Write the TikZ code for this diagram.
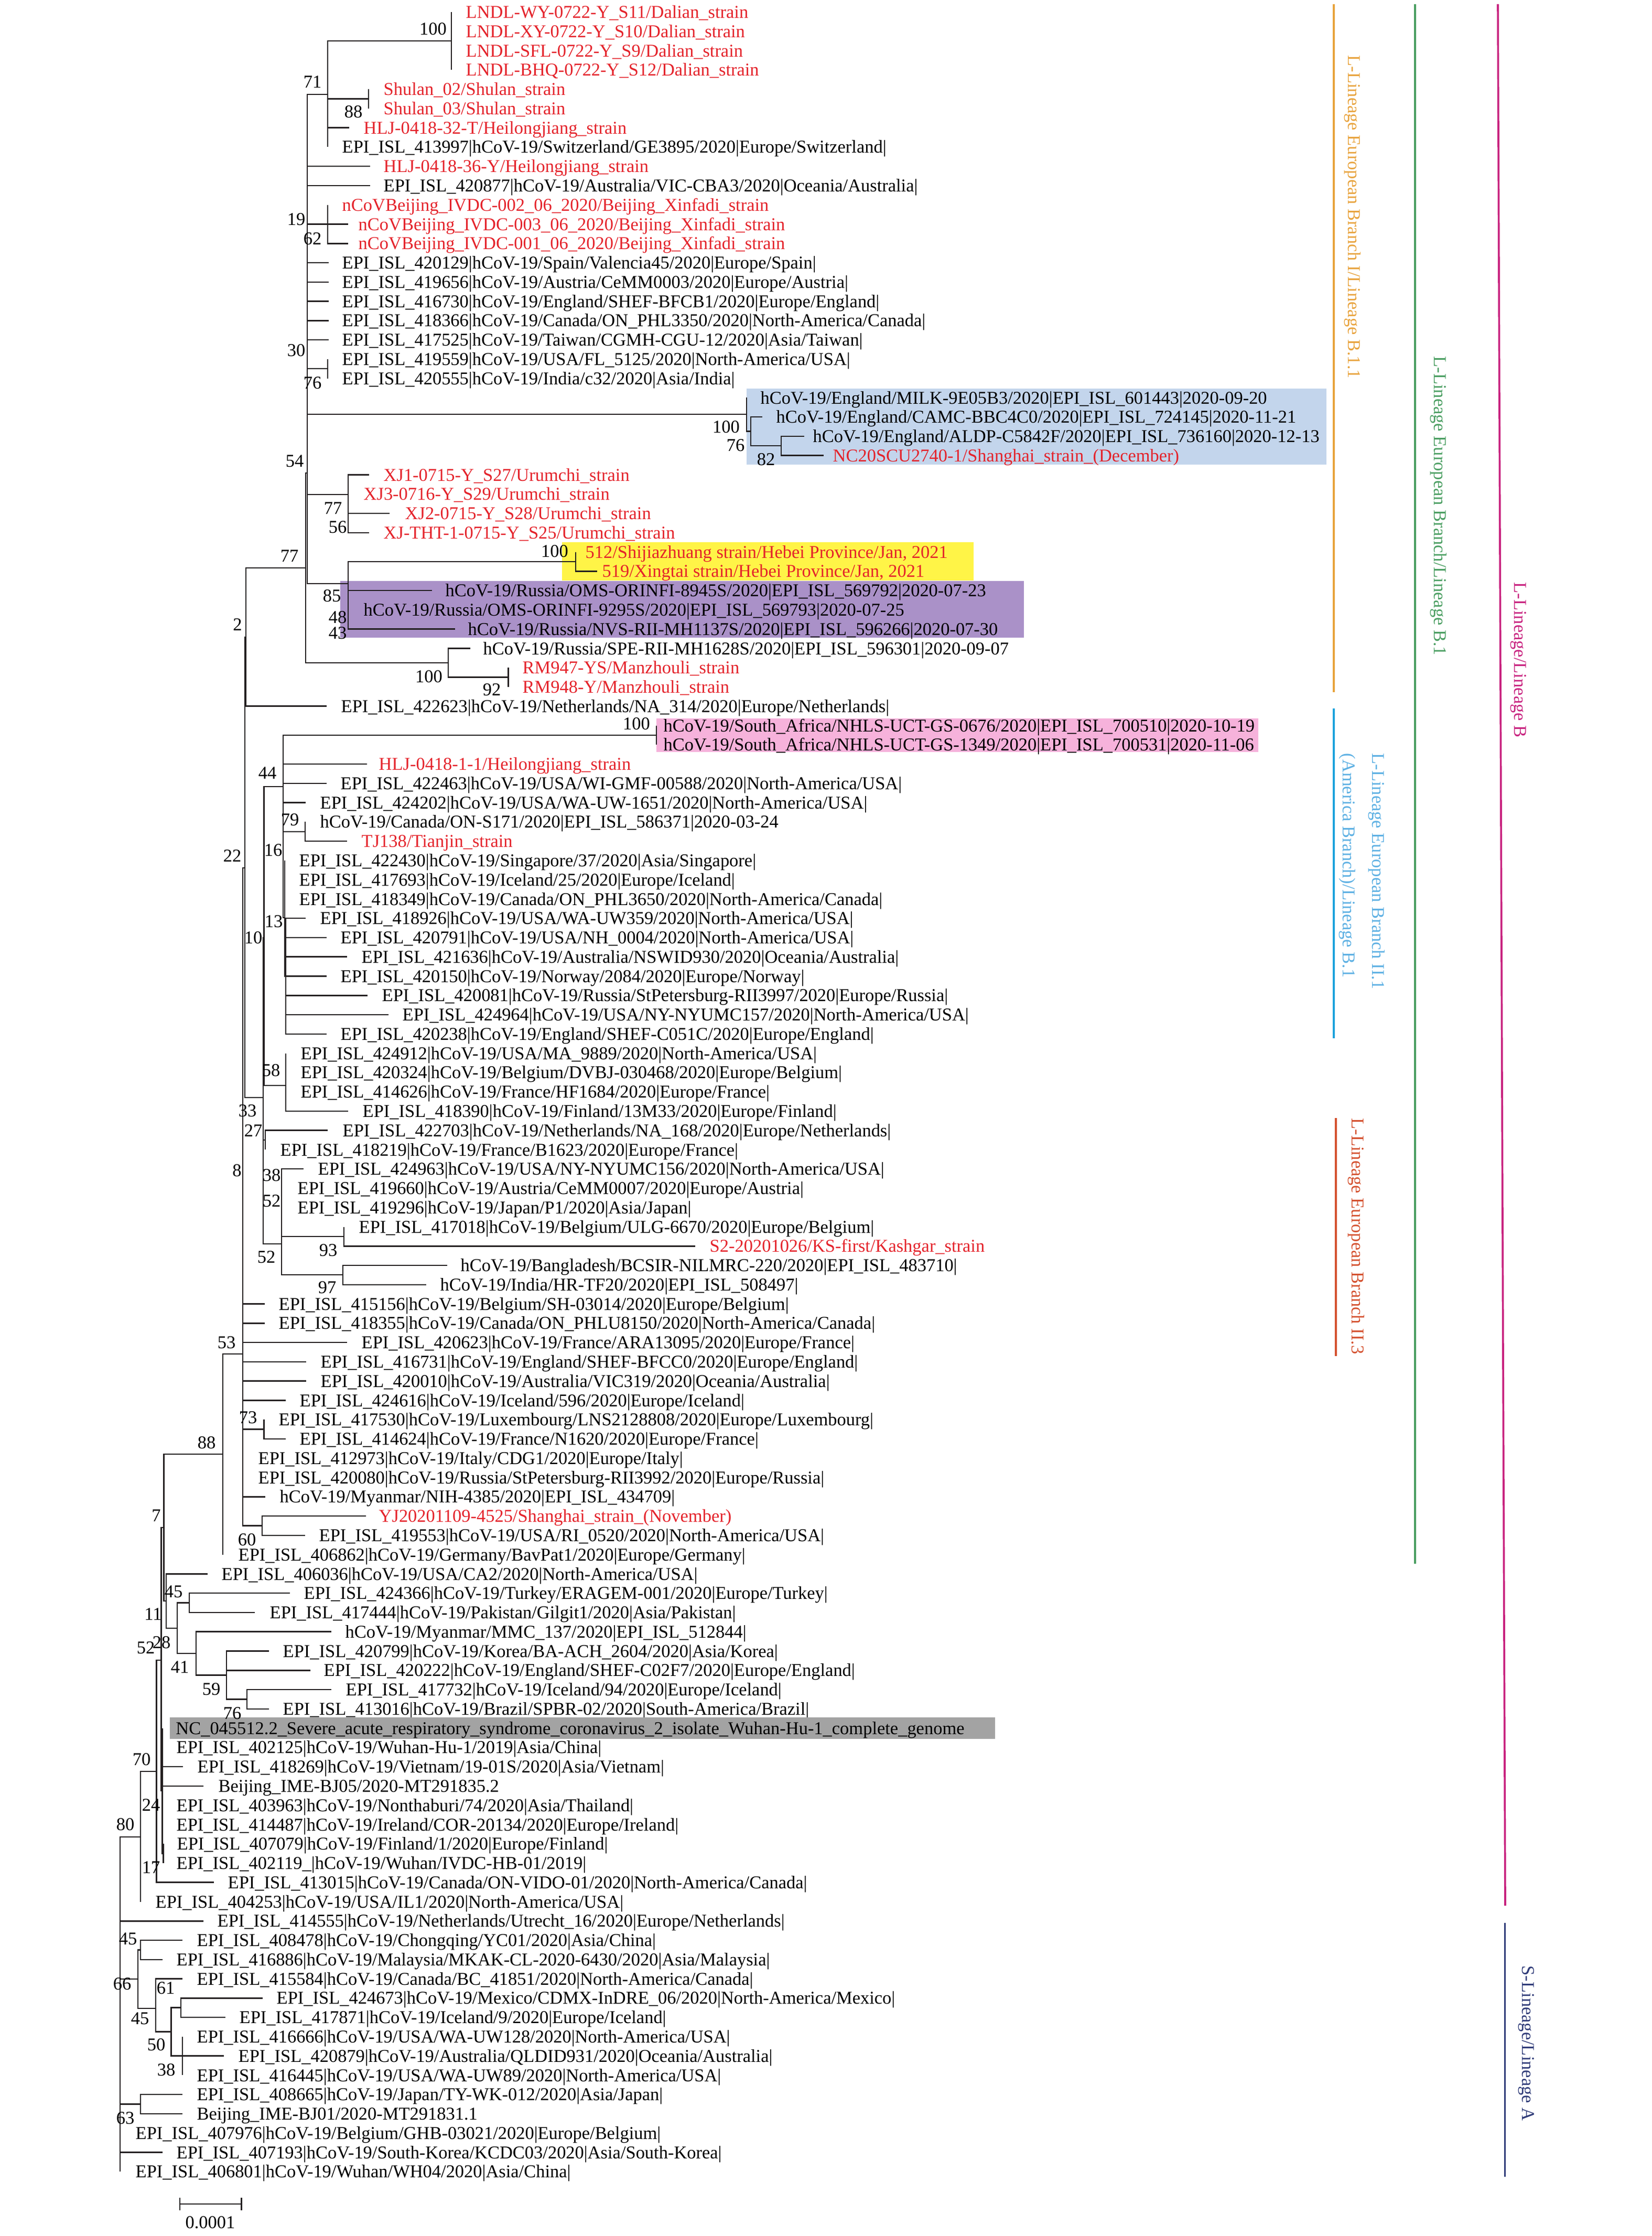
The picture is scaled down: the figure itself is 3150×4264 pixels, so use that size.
\documentclass[tikz,border=0pt]{standalone}
\usepackage{fontspec}
\setmainfont{Liberation Serif}
\definecolor{tred}{HTML}{E4232B}
\definecolor{brc}{HTML}{231F20}
\definecolor{bxblue}{HTML}{C3D5EC}
\definecolor{bxyel}{HTML}{FFF447}
\definecolor{bxpur}{HTML}{AA91C8}
\definecolor{bxpink}{HTML}{F6B2DB}
\definecolor{bxgray}{HTML}{A3A3A3}
\definecolor{cOr}{HTML}{E8A33D}
\definecolor{cGr}{HTML}{4A9E61}
\definecolor{cMg}{HTML}{C8237F}
\definecolor{cBl}{HTML}{1DA2DC}
\definecolor{cBlT}{HTML}{5DB0E3}
\definecolor{cRd}{HTML}{D4502E}
\definecolor{cNv}{HTML}{2F3B78}
\newcommand\fsz{\fontsize{9.8pt}{11pt}\selectfont}
\newcommand\leafnode[6]{\coordinate (#1) at (#3,{23+36.77*#2});\node[leaf,#5] (#1t) at (#4,{23+36.77*#2}) {#6};}
\newcommand\edges[2]{\foreach \ch in {#2}{\draw[br] (#1) |- (\ch);}}
\newcommand\bval[4]{\node[bsl] (#1) at (#2,#3) {#4};}
\begin{document}
\begin{tikzpicture}[x=0.01cm,y=-0.01cm,
  leaf/.style={anchor=west,inner sep=0pt,text height=6.6pt,text depth=0pt,font=\fsz},
  bsl/.style={anchor=center,inner sep=0pt,text height=6.6pt,text depth=0pt,font=\fsz},
  br/.style={line width=0.72pt,draw=brc},
  bar/.style={line width=1.05pt},
  vlab/.style={anchor=west,rotate=-90,inner sep=0pt,text height=6.6pt,text depth=0pt,font=\fsz}]
\useasboundingbox (0,0) rectangle (3150,4264);
% highlight boxes
\fill[bxblue] (1424,741) rectangle (2530,886);
\fill[bxyel] (1072,1034) rectangle (1857,1107);
\fill[bxpur] (649,1108) rectangle (1953,1216);
\fill[bxpink] (1252,1370) rectangle (2400,1434);
% leaves
\leafnode{L0}{0}{861}{888}{tred}{LNDL-WY-0722-Y\_S11/Dalian\_strain}
\leafnode{L1}{1}{861}{888}{tred}{LNDL-XY-0722-Y\_S10/Dalian\_strain}
\leafnode{L2}{2}{861}{888}{tred}{LNDL-SFL-0722-Y\_S9/Dalian\_strain}
\leafnode{L3}{3}{861}{888}{tred}{LNDL-BHQ-0722-Y\_S12/Dalian\_strain}
\leafnode{L4}{4}{703}{731}{tred}{Shulan\_02/Shulan\_strain}
\leafnode{L5}{5}{703}{731}{tred}{Shulan\_03/Shulan\_strain}
\leafnode{L6}{6}{666}{693}{tred}{HLJ-0418-32-T/Heilongjiang\_strain}
\leafnode{L7}{7}{625}{652}{}{EPI\_ISL\_413997|hCoV-19/Switzerland/GE3895/2020|Europe/Switzerland|}
\leafnode{L8}{8}{706}{731}{tred}{HLJ-0418-36-Y/Heilongjiang\_strain}
\leafnode{L9}{9}{706}{731}{}{EPI\_ISL\_420877|hCoV-19/Australia/VIC-CBA3/2020|Oceania/Australia|}
\leafnode{L10}{10}{625}{652}{tred}{nCoVBeijing\_IVDC-002\_06\_2020/Beijing\_Xinfadi\_strain}
\leafnode{L11}{11}{664}{683}{tred}{nCoVBeijing\_IVDC-003\_06\_2020/Beijing\_Xinfadi\_strain}
\leafnode{L12}{12}{664}{683}{tred}{nCoVBeijing\_IVDC-001\_06\_2020/Beijing\_Xinfadi\_strain}
\leafnode{L13}{13}{627}{652}{}{EPI\_ISL\_420129|hCoV-19/Spain/Valencia45/2020|Europe/Spain|}
\leafnode{L14}{14}{627}{652}{}{EPI\_ISL\_419656|hCoV-19/Austria/CeMM0003/2020|Europe/Austria|}
\leafnode{L15}{15}{627}{652}{}{EPI\_ISL\_416730|hCoV-19/England/SHEF-BFCB1/2020|Europe/England|}
\leafnode{L16}{16}{627}{652}{}{EPI\_ISL\_418366|hCoV-19/Canada/ON\_PHL3350/2020|North-America/Canada|}
\leafnode{L17}{17}{627}{652}{}{EPI\_ISL\_417525|hCoV-19/Taiwan/CGMH-CGU-12/2020|Asia/Taiwan|}
\leafnode{L18}{18}{625}{652}{}{EPI\_ISL\_419559|hCoV-19/USA/FL\_5125/2020|North-America/USA|}
\leafnode{L19}{19}{625}{652}{}{EPI\_ISL\_420555|hCoV-19/India/c32/2020|Asia/India|}
\leafnode{L20}{20}{1424}{1450}{}{hCoV-19/England/MILK-9E05B3/2020|EPI\_ISL\_601443|2020-09-20}
\leafnode{L21}{21}{1454}{1480}{}{hCoV-19/England/CAMC-BBC4C0/2020|EPI\_ISL\_724145|2020-11-21}
\leafnode{L22}{22}{1534}{1550}{}{hCoV-19/England/ALDP-C5842F/2020|EPI\_ISL\_736160|2020-12-13}
\leafnode{L23}{23}{1571}{1588}{tred}{NC20SCU2740-1/Shanghai\_strain\_(December)}
\leafnode{L24}{24}{704}{731}{tred}{XJ1-0715-Y\_S27/Urumchi\_strain}
\leafnode{L25}{25}{664}{693}{tred}{XJ3-0716-Y\_S29/Urumchi\_strain}
\leafnode{L26}{26}{743}{772}{tred}{XJ2-0715-Y\_S28/Urumchi\_strain}
\leafnode{L27}{27}{704}{731}{tred}{XJ-THT-1-0715-Y\_S25/Urumchi\_strain}
\leafnode{L28}{28}{1098}{1116}{tred}{512/Shijiazhuang strain/Hebei Province/Jan, 2021}
\leafnode{L29}{29}{1139}{1148}{tred}{519/Xingtai strain/Hebei Province/Jan, 2021}
\leafnode{L30}{30}{823.5}{849}{}{hCoV-19/Russia/OMS-ORINFI-8945S/2020|EPI\_ISL\_569792|2020-07-23}
\leafnode{L31}{31}{664}{693}{}{hCoV-19/Russia/OMS-ORINFI-9295S/2020|EPI\_ISL\_569793|2020-07-25}
\leafnode{L32}{32}{867.5}{892}{}{hCoV-19/Russia/NVS-RII-MH1137S/2020|EPI\_ISL\_596266|2020-07-30}
\leafnode{L33}{33}{896.5}{921}{}{hCoV-19/Russia/SPE-RII-MH1628S/2020|EPI\_ISL\_596301|2020-09-07}
\leafnode{L34}{34}{969.5}{996}{tred}{RM947-YS/Manzhouli\_strain}
\leafnode{L35}{35}{969.5}{996}{tred}{RM948-Y/Manzhouli\_strain}
\leafnode{L36}{36}{623}{650}{}{EPI\_ISL\_422623|hCoV-19/Netherlands/NA\_314/2020|Europe/Netherlands|}
\leafnode{L37}{37}{1252}{1265}{}{hCoV-19/South\_Africa/NHLS-UCT-GS-0676/2020|EPI\_ISL\_700510|2020-10-19}
\leafnode{L38}{38}{1252}{1265}{}{hCoV-19/South\_Africa/NHLS-UCT-GS-1349/2020|EPI\_ISL\_700531|2020-11-06}
\leafnode{L39}{39}{700}{722}{tred}{HLJ-0418-1-1/Heilongjiang\_strain}
\leafnode{L40}{40}{623}{649}{}{EPI\_ISL\_422463|hCoV-19/USA/WI-GMF-00588/2020|North-America/USA|}
\leafnode{L41}{41}{583}{610}{}{EPI\_ISL\_424202|hCoV-19/USA/WA-UW-1651/2020|North-America/USA|}
\leafnode{L42}{42}{582}{610}{}{hCoV-19/Canada/ON-S171/2020|EPI\_ISL\_586371|2020-03-24}
\leafnode{L43}{43}{662}{689}{tred}{TJ138/Tianjin\_strain}
\leafnode{L44}{44}{543}{570}{}{EPI\_ISL\_422430|hCoV-19/Singapore/37/2020|Asia/Singapore|}
\leafnode{L45}{45}{543}{570}{}{EPI\_ISL\_417693|hCoV-19/Iceland/25/2020|Europe/Iceland|}
\leafnode{L46}{46}{543}{570}{}{EPI\_ISL\_418349|hCoV-19/Canada/ON\_PHL3650/2020|North-America/Canada|}
\leafnode{L47}{47}{583}{610}{}{EPI\_ISL\_418926|hCoV-19/USA/WA-UW359/2020|North-America/USA|}
\leafnode{L48}{48}{623}{649}{}{EPI\_ISL\_420791|hCoV-19/USA/NH\_0004/2020|North-America/USA|}
\leafnode{L49}{49}{662}{689}{}{EPI\_ISL\_421636|hCoV-19/Australia/NSWID930/2020|Oceania/Australia|}
\leafnode{L50}{50}{623}{649}{}{EPI\_ISL\_420150|hCoV-19/Norway/2084/2020|Europe/Norway|}
\leafnode{L51}{51}{701}{728}{}{EPI\_ISL\_420081|hCoV-19/Russia/StPetersburg-RII3997/2020|Europe/Russia|}
\leafnode{L52}{52}{741}{767}{}{EPI\_ISL\_424964|hCoV-19/USA/NY-NYUMC157/2020|North-America/USA|}
\leafnode{L53}{53}{623}{649}{}{EPI\_ISL\_420238|hCoV-19/England/SHEF-C051C/2020|Europe/England|}
\leafnode{L54}{54}{545}{573}{}{EPI\_ISL\_424912|hCoV-19/USA/MA\_9889/2020|North-America/USA|}
\leafnode{L55}{55}{545}{573}{}{EPI\_ISL\_420324|hCoV-19/Belgium/DVBJ-030468/2020|Europe/Belgium|}
\leafnode{L56}{56}{545}{573}{}{EPI\_ISL\_414626|hCoV-19/France/HF1684/2020|Europe/France|}
\leafnode{L57}{57}{664}{691}{}{EPI\_ISL\_418390|hCoV-19/Finland/13M33/2020|Europe/Finland|}
\leafnode{L58}{58}{625}{653}{}{EPI\_ISL\_422703|hCoV-19/Netherlands/NA\_168/2020|Europe/Netherlands|}
\leafnode{L59}{59}{506}{534}{}{EPI\_ISL\_418219|hCoV-19/France/B1623/2020|Europe/France|}
\leafnode{L60}{60}{579}{606}{}{EPI\_ISL\_424963|hCoV-19/USA/NY-NYUMC156/2020|North-America/USA|}
\leafnode{L61}{61}{537}{567}{}{EPI\_ISL\_419660|hCoV-19/Austria/CeMM0007/2020|Europe/Austria|}
\leafnode{L62}{62}{537}{567}{}{EPI\_ISL\_419296|hCoV-19/Japan/P1/2020|Asia/Japan|}
\leafnode{L63}{63}{656}{684}{}{EPI\_ISL\_417018|hCoV-19/Belgium/ULG-6670/2020|Europe/Belgium|}
\leafnode{L64}{64}{1326}{1353}{tred}{S2-20201026/KS-first/Kashgar\_strain}
\leafnode{L65}{65}{853}{878}{}{hCoV-19/Bangladesh/BCSIR-NILMRC-220/2020|EPI\_ISL\_483710|}
\leafnode{L66}{66}{813}{839}{}{hCoV-19/India/HR-TF20/2020|EPI\_ISL\_508497|}
\leafnode{L67}{67}{505}{531}{}{EPI\_ISL\_415156|hCoV-19/Belgium/SH-03014/2020|Europe/Belgium|}
\leafnode{L68}{68}{505}{531}{}{EPI\_ISL\_418355|hCoV-19/Canada/ON\_PHLU8150/2020|North-America/Canada|}
\leafnode{L69}{69}{662}{689}{}{EPI\_ISL\_420623|hCoV-19/France/ARA13095/2020|Europe/France|}
\leafnode{L70}{70}{584}{611}{}{EPI\_ISL\_416731|hCoV-19/England/SHEF-BFCC0/2020|Europe/England|}
\leafnode{L71}{71}{584}{611}{}{EPI\_ISL\_420010|hCoV-19/Australia/VIC319/2020|Oceania/Australia|}
\leafnode{L72}{72}{545}{571}{}{EPI\_ISL\_424616|hCoV-19/Iceland/596/2020|Europe/Iceland|}
\leafnode{L73}{73}{503.5}{531}{}{EPI\_ISL\_417530|hCoV-19/Luxembourg/LNS2128808/2020|Europe/Luxembourg|}
\leafnode{L74}{74}{545}{571}{}{EPI\_ISL\_414624|hCoV-19/France/N1620/2020|Europe/France|}
\leafnode{L75}{75}{463}{492}{}{EPI\_ISL\_412973|hCoV-19/Italy/CDG1/2020|Europe/Italy|}
\leafnode{L76}{76}{463}{492}{}{EPI\_ISL\_420080|hCoV-19/Russia/StPetersburg-RII3992/2020|Europe/Russia|}
\leafnode{L77}{77}{506}{533}{}{hCoV-19/Myanmar/NIH-4385/2020|EPI\_ISL\_434709|}
\leafnode{L78}{78}{698}{722}{tred}{YJ20201109-4525/Shanghai\_strain\_(November)}
\leafnode{L79}{79}{582}{608}{}{EPI\_ISL\_419553|hCoV-19/USA/RI\_0520/2020|North-America/USA|}
\leafnode{L80}{80}{425}{454}{}{EPI\_ISL\_406862|hCoV-19/Germany/BavPat1/2020|Europe/Germany|}
\leafnode{L81}{81}{396}{422}{}{EPI\_ISL\_406036|hCoV-19/USA/CA2/2020|North-America/USA|}
\leafnode{L82}{82}{553}{579}{}{EPI\_ISL\_424366|hCoV-19/Turkey/ERAGEM-001/2020|Europe/Turkey|}
\leafnode{L83}{83}{486}{514}{}{EPI\_ISL\_417444|hCoV-19/Pakistan/Gilgit1/2020|Asia/Pakistan|}
\leafnode{L84}{84}{632}{658}{}{hCoV-19/Myanmar/MMC\_137/2020|EPI\_ISL\_512844|}
\leafnode{L85}{85}{512.5}{539}{}{EPI\_ISL\_420799|hCoV-19/Korea/BA-ACH\_2604/2020|Asia/Korea|}
\leafnode{L86}{86}{591.5}{617}{}{EPI\_ISL\_420222|hCoV-19/England/SHEF-C02F7/2020|Europe/England|}
\leafnode{L87}{87}{632}{659}{}{EPI\_ISL\_417732|hCoV-19/Iceland/94/2020|Europe/Iceland|}
\leafnode{L88}{88}{512.5}{539}{}{EPI\_ISL\_413016|hCoV-19/Brazil/SPBR-02/2020|South-America/Brazil|}
\leafnode{L89}{89}{309.3}{323.7}{fill=bxgray,inner xsep=0.11cm,minimum height=0.41cm,text width=15.51cm,align=left}{NC\_045512.2\_Severe\_acute\_respiratory\_syndrome\_coronavirus\_2\_isolate\_Wuhan-Hu-1\_complete\_genome}
\leafnode{L90}{90}{309.3}{336}{}{EPI\_ISL\_402125|hCoV-19/Wuhan-Hu-1/2019|Asia/China|}
\leafnode{L91}{91}{349}{376}{}{EPI\_ISL\_418269|hCoV-19/Vietnam/19-01S/2020|Asia/Vietnam|}
\leafnode{L92}{92}{388}{416}{}{Beijing\_IME-BJ05/2020-MT291835.2}
\leafnode{L93}{93}{309.3}{336}{}{EPI\_ISL\_403963|hCoV-19/Nonthaburi/74/2020|Asia/Thailand|}
\leafnode{L94}{94}{309.3}{336}{}{EPI\_ISL\_414487|hCoV-19/Ireland/COR-20134/2020|Europe/Ireland|}
\leafnode{L95}{95}{311.5}{337}{}{EPI\_ISL\_407079|hCoV-19/Finland/1/2020|Europe/Finland|}
\leafnode{L96}{96}{311.5}{336}{}{EPI\_ISL\_402119\_|hCoV-19/Wuhan/IVDC-HB-01/2019|}
\leafnode{L97}{97}{408}{434}{}{EPI\_ISL\_413015|hCoV-19/Canada/ON-VIDO-01/2020|North-America/Canada|}
\leafnode{L98}{98}{268}{296}{}{EPI\_ISL\_404253|hCoV-19/USA/IL1/2020|North-America/USA|}
\leafnode{L99}{99}{388}{414}{}{EPI\_ISL\_414555|hCoV-19/Netherlands/Utrecht\_16/2020|Europe/Netherlands|}
\leafnode{L100}{100}{348}{375}{}{EPI\_ISL\_408478|hCoV-19/Chongqing/YC01/2020|Asia/China|}
\leafnode{L101}{101}{310}{336}{}{EPI\_ISL\_416886|hCoV-19/Malaysia/MKAK-CL-2020-6430/2020|Asia/Malaysia|}
\leafnode{L102}{102}{348}{375}{}{EPI\_ISL\_415584|hCoV-19/Canada/BC\_41851/2020|North-America/Canada|}
\leafnode{L103}{103}{501}{527}{}{EPI\_ISL\_424673|hCoV-19/Mexico/CDMX-InDRE\_06/2020|North-America/Mexico|}
\leafnode{L104}{104}{430}{456}{}{EPI\_ISL\_417871|hCoV-19/Iceland/9/2020|Europe/Iceland|}
\leafnode{L105}{105}{348}{375}{}{EPI\_ISL\_416666|hCoV-19/USA/WA-UW128/2020|North-America/USA|}
\leafnode{L106}{106}{427}{454}{}{EPI\_ISL\_420879|hCoV-19/Australia/QLDID931/2020|Oceania/Australia|}
\leafnode{L107}{107}{348}{375}{}{EPI\_ISL\_416445|hCoV-19/USA/WA-UW89/2020|North-America/USA|}
\leafnode{L108}{108}{348}{375}{}{EPI\_ISL\_408665|hCoV-19/Japan/TY-WK-012/2020|Asia/Japan|}
\leafnode{L109}{109}{348}{375}{}{Beijing\_IME-BJ01/2020-MT291831.1}
\leafnode{L110}{110}{229}{258}{}{EPI\_ISL\_407976|hCoV-19/Belgium/GHB-03021/2020|Europe/Belgium|}
\leafnode{L111}{111}{310}{336}{}{EPI\_ISL\_407193|hCoV-19/South-Korea/KCDC03/2020|Asia/South-Korea|}
\leafnode{L112}{112}{229}{258}{}{EPI\_ISL\_406801|hCoV-19/Wuhan/WH04/2020|Asia/China|}
% internal nodes
\coordinate (nD) at (861,78);
\coordinate (nS) at (703,188.5);
\coordinate (n71) at (625,180);
\coordinate (nX) at (625,427.5);
\coordinate (n76) at (625,703);
\coordinate (nB) at (1424,790);
\coordinate (n76b) at (1432,822.5);
\coordinate (n82) at (1490,850);
\coordinate (nU) at (664,943);
\coordinate (nHeb) at (1098,1071);
\coordinate (nHR) at (664,1113);
\coordinate (n54) at (586,902);
\coordinate (nM2) at (969.5,1291.5);
\coordinate (nM) at (855,1264);
\coordinate (n77) at (583,1083);
\coordinate (n2) at (469,1215);
\coordinate (n22) at (467,1655);
\coordinate (nSA) at (1252,1402);
\coordinate (n79) at (582,1586);
\coordinate (n13) at (545,1861.5);
\coordinate (n16) at (543,1750);
\coordinate (n44) at (540,1500);
\coordinate (n58) at (545,2070);
\coordinate (n10) at (503.5,1788);
\coordinate (n27) at (506,2174);
\coordinate (n93) at (656,2358);
\coordinate (n97) at (654,2431);
\coordinate (n52) at (537,2372);
\coordinate (n33) at (502,2093);
\coordinate (n73) at (503.5,2725.6);
\coordinate (n60) at (500,2909.4);
\coordinate (n53) at (463,2582);
\coordinate (n88) at (425,2773);
\coordinate (nTP) at (361,3056.5);
\coordinate (n76c) at (471,3240.4);
\coordinate (n59) at (432,3194.5);
\coordinate (n41) at (374,3153);
\coordinate (n28) at (338,3104.8);
\coordinate (n45) at (317,3053);
\coordinate (n7) at (312.5,2913);
\coordinate (n17b) at (311.5,3534.6);
\coordinate (n24) at (309.3,3415);
\coordinate (n11) at (307.3,3166);
\coordinate (n70) at (298.3,3378);
\coordinate (n80) at (268,3503);
\coordinate (n45u) at (268,3718.4);
\coordinate (n61) at (345,3828.6);
\coordinate (n38b) at (348,3920.6);
\coordinate (n50) at (326.5,3874.6);
\coordinate (n45b) at (297,3830);
\coordinate (n66) at (263,3774);
\coordinate (n63) at (268,4012.6);
\coordinate (root) at (229,3800);
% branches
\edges{nD}{L0,L1,L2,L3}
\edges{nS}{L4,L5}
\edges{n71}{nD,nS,L6,L7}
\edges{nX}{L10,L11,L12}
\edges{n76}{L18,L19}
\edges{n82}{L22,L23}
\edges{n76b}{L21,n82}
\edges{nB}{L20,n76b}
\edges{nU}{L24,L25,L26,L27}
\edges{nHeb}{L28,L29}
\edges{nHR}{nHeb,L30,L31,L32}
\edges{n54}{n71,L8,L9,nX,L13,L14,L15,L16,L17,n76,nB,nU,nHR}
\edges{nM2}{L34,L35}
\edges{nM}{L33,nM2}
\edges{n77}{n54,nM}
\edges{n2}{n77,L36}
\edges{nSA}{L37,L38}
\edges{n79}{L42,L43}
\edges{n13}{L47,L48,L49,L50,L51,L52,L53}
\edges{n16}{L44,L45,L46,n13}
\edges{n44}{nSA,L39,L40,L41,n79,n16}
\edges{n58}{L54,L55,L56,L57}
\edges{n10}{n44,n58}
\edges{n27}{L58,L59}
\edges{n93}{L63,L64}
\edges{n97}{L65,L66}
\edges{n52}{L60,L61,L62,n93,n97}
\edges{n33}{n10,n27,n52}
\edges{n22}{n2,n33}
\edges{n73}{L73,L74}
\edges{n60}{L78,L79}
\edges{n53}{n22,L67,L68,L69,L70,L71,L72,n73,L75,L76,L77,n60}
\edges{n88}{n53,L80}
\edges{nTP}{L82,L83}
\edges{n76c}{L87,L88}
\edges{n59}{L85,L86,n76c}
\edges{n41}{L84,n59}
\edges{n28}{nTP,n41}
\edges{n45}{L81,n28}
\edges{n7}{n88,n45}
\edges{n17b}{L95,L96}
\edges{n24}{L89,L90,L91,L93,L94,n17b}
\edges{n11}{n7,n24,L92}
\edges{n70}{n11,L97}
\edges{n80}{n70,L98}
\edges{n45u}{L100,L101}
\edges{n61}{L103,L104}
\edges{n38b}{L105,L106,L107}
\edges{n50}{n61,n38b}
\edges{n45b}{L102,n50}
\edges{n66}{n45u,n45b}
\edges{n63}{L108,L109}
\edges{root}{n80,L99,n66,n63,L110,L111,L112}
% bootstrap values
\bval{b1}{826}{55}{100}
\bval{b2}{596}{156}{71}
\bval{b3}{674}{213}{88}
\bval{b4}{565}{418}{19}
\bval{b5}{596}{455}{62}
\bval{b6}{565}{668}{30}
\bval{b7}{596}{730}{76}
\bval{b8}{562}{879}{54}
\bval{b9}{635}{969}{77}
\bval{b10}{644}{1005}{56}
\bval{b11}{552}{1060}{77}
\bval{b12}{1058}{1051}{100}
\bval{b13}{633}{1136}{85}
\bval{b14}{644}{1177}{48}
\bval{b15}{644}{1207}{43}
\bval{b16}{453}{1191}{2}
\bval{b17}{818}{1290}{100}
\bval{b18}{938}{1315}{92}
\bval{b19}{1385}{814}{100}
\bval{b20}{1403}{849}{76}
\bval{b21}{1461}{876}{82}
\bval{b22}{1214}{1380}{100}
\bval{b23}{510}{1474}{44}
\bval{b24}{553}{1563}{79}
\bval{b25}{443}{1632}{22}
\bval{b26}{521}{1621}{16}
\bval{b27}{522}{1757}{13}
\bval{b28}{483}{1788}{10}
\bval{b29}{517}{2041}{58}
\bval{b30}{472}{2118}{33}
\bval{b31}{483}{2156}{27}
\bval{b32}{452}{2232}{8}
\bval{b33}{518}{2241}{38}
\bval{b34}{518}{2290}{52}
\bval{b35}{508}{2397}{52}
\bval{b36}{626}{2384}{93}
\bval{b37}{624}{2455}{97}
\bval{b38}{432}{2560}{53}
\bval{b39}{473}{2703}{73}
\bval{b40}{394}{2751}{88}
\bval{b41}{298}{2890}{7}
\bval{b42}{471}{2936}{60}
\bval{b43}{331}{3035}{45}
\bval{b44}{292}{3078}{11}
\bval{b45}{308}{3132}{28}
\bval{b46}{278}{3142}{52}
\bval{b47}{343}{3179}{41}
\bval{b48}{403}{3221}{59}
\bval{b49}{443}{3267}{76}
\bval{b50}{270}{3355}{70}
\bval{b51}{288}{3442}{24}
\bval{b52}{239}{3479}{80}
\bval{b53}{288}{3561}{17}
\bval{b54}{244}{3697}{45}
\bval{b55}{233}{3783}{66}
\bval{b56}{316}{3791}{61}
\bval{b57}{267}{3849}{45}
\bval{b58}{298}{3899}{50}
\bval{b59}{317}{3947}{38}
\bval{b60}{239}{4039}{63}
% scale bar
\coordinate (sbA) at (343,4203);
\coordinate (sbB) at (460.5,4203);
\coordinate (sbA1) at (343,4191);
\coordinate (sbA2) at (343,4215);
\coordinate (sbB1) at (460.5,4191);
\coordinate (sbB2) at (460.5,4215);
\draw[br] (sbA) -- (sbB);
\draw[br] (sbA1) -- (sbA2);
\draw[br] (sbB1) -- (sbB2);
\node[bsl] (sbl) at (401,4238) {0.0001};
% lineage bars
\coordinate (orT) at (2544,8); \coordinate (orB) at (2544,1320);
\coordinate (grT) at (2699,8); \coordinate (grB) at (2699,2982);
\coordinate (mgT) at (2857,8); \coordinate (mgB) at (2871,3634);
\coordinate (blT) at (2544,1351); \coordinate (blB) at (2544,1980);
\coordinate (rdT) at (2548,2132); \coordinate (rdB) at (2548,2586);
\coordinate (nvT) at (2870.5,3667); \coordinate (nvB) at (2870.5,4151);
\draw[bar,cOr] (orT) -- (orB);
\draw[bar,cGr] (grT) -- (grB);
\draw[bar,cMg] (mgT) -- (mgB);
\draw[bar,cBl] (blT) -- (blB);
\draw[bar,cRd] (rdT) -- (rdB);
\draw[bar,cNv] (nvT) -- (nvB);
\node[vlab,cOr] (tOr) at (2583,105) {L-Lineage European Branch I/Lineage B.1.1};
\node[vlab,cGr] (tGr) at (2747,679) {L-Lineage European Branch/Lineage B.1};
\node[vlab,cMg] (tMg) at (2900,1110) {L-Lineage/Lineage B};
\node[vlab,cBlT] (tBl1) at (2629,1436) {L-Lineage European Branch II.1};
\node[vlab,cBlT] (tBl2) at (2573,1436) {(America Branch)/Lineage B.1};
\node[vlab,cRd] (tRd) at (2590,2132) {L-Lineage European Branch II.3};
\node[vlab,cNv] (tNv) at (2915,3748) {S-Lineage/Lineage A};
\end{tikzpicture}
\end{document}
